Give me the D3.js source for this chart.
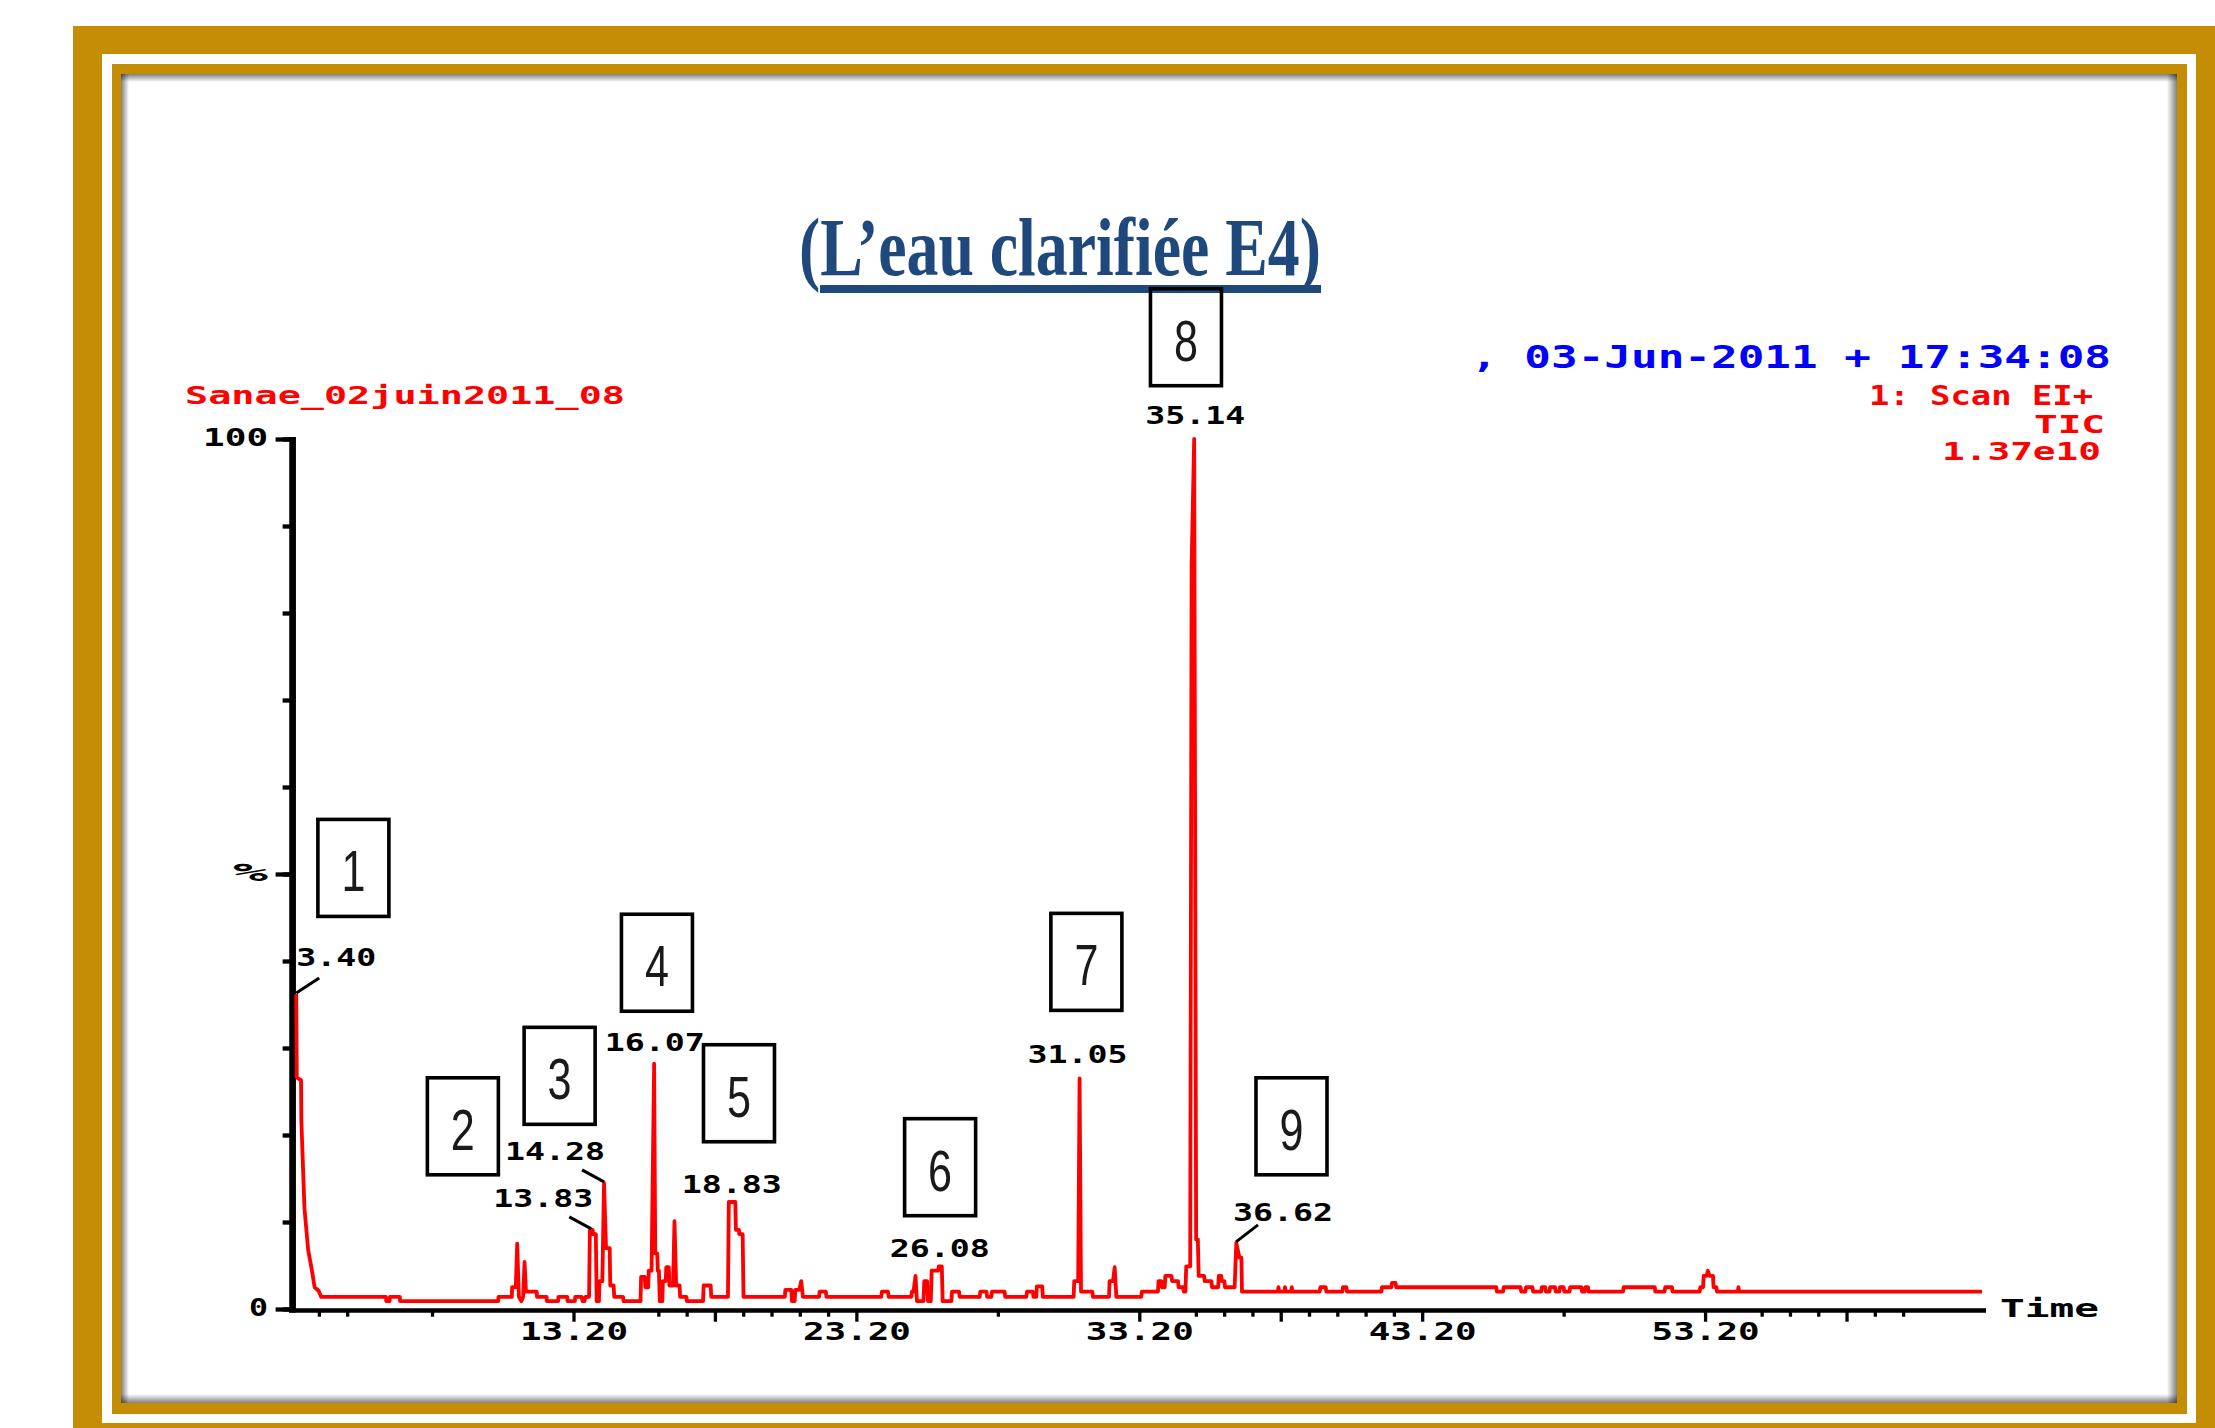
<!DOCTYPE html>
<html>
<head>
<meta charset="utf-8">
<script src="https://cdn.jsdelivr.net/npm/d3@7"></script>
<style>
  body { margin: 0; background: #fff; }
  svg { display: block; }
</style>
</head>
<body>
<div id="chart"></div>
<script>
// ---- data ----
const chartTitle = '(L\u2019eau clarifiée E4)';
const sampleName = 'Sanae_02juin2011_08';
const runStamp = ', 03-Jun-2011 + 17:34:08';
const scanInfo = ['1: Scan EI+', 'TIC', '1.37e10'];

// retention time (min), relative abundance (%)
const trace = [
  [3.40, 36.2], [3.42, 26.6], [3.57, 26.3], [3.58, 21.7], [3.69, 11.6], [3.82, 6.8], [3.94, 4.7],
  [4.05, 2.5], [4.19, 2.1], [4.28, 1.4], [6.57, 1.4], [6.58, 0.9], [6.70, 0.9], [6.71, 1.4],
  [7.06, 1.4], [7.07, 0.9], [10.54, 0.9], [10.55, 1.4], [11.02, 1.4], [11.03, 2.5], [11.16, 2.5],
  [11.21, 7.5], [11.27, 1.4], [11.36, 0.9], [11.42, 1.4], [11.47, 5.4], [11.52, 2.0], [11.90, 2.0],
  [11.91, 1.4], [12.25, 1.4], [12.26, 0.9], [12.66, 0.9], [12.67, 1.4], [12.98, 1.4], [12.99, 0.9],
  [13.25, 0.9], [13.26, 1.4], [13.49, 1.4], [13.52, 0.9], [13.59, 0.9], [13.62, 1.4], [13.75, 1.4],
  [13.78, 9.1], [13.88, 9.1], [13.89, 8.6], [13.99, 8.6], [14.02, 0.9], [14.10, 0.9], [14.12, 3.2],
  [14.22, 3.2], [14.28, 14.5], [14.35, 7.0], [14.48, 7.0], [14.50, 2.7], [14.62, 2.7], [14.64, 1.4],
  [14.95, 1.4], [14.97, 0.9], [15.57, 0.9], [15.59, 3.7], [15.72, 3.7], [15.74, 2.5], [15.84, 2.5],
  [15.86, 4.4], [15.96, 4.4], [16.05, 28.2], [16.09, 6.4], [16.16, 6.4], [16.18, 4.4], [16.22, 4.4],
  [16.25, 0.9], [16.34, 0.9], [16.36, 3.2], [16.46, 3.2], [16.48, 4.8], [16.57, 4.8], [16.59, 2.7],
  [16.72, 2.7], [16.77, 10.1], [16.83, 2.7], [16.95, 2.7], [16.97, 1.4], [17.19, 1.4], [17.21, 0.9],
  [17.78, 0.9], [17.80, 2.7], [18.05, 2.7], [18.07, 1.4], [18.66, 1.4], [18.69, 12.3], [18.92, 12.3],
  [18.94, 9.1], [19.05, 9.1], [19.06, 8.6], [19.18, 8.6], [19.21, 1.4], [20.67, 1.4], [20.69, 2.2],
  [20.90, 2.2], [20.92, 0.9], [21.02, 0.9], [21.04, 2.2], [21.18, 2.2], [21.25, 3.2], [21.31, 1.4],
  [21.88, 1.4], [21.90, 2.0], [22.12, 2.0], [22.14, 1.4], [24.08, 1.4], [24.10, 2.0], [24.32, 2.0],
  [24.34, 1.4], [25.14, 1.4], [25.16, 2.0], [25.22, 2.0], [25.29, 3.8], [25.34, 0.9], [25.57, 0.9],
  [25.60, 3.2], [25.70, 3.2], [25.73, 0.9], [25.83, 0.9], [25.86, 4.4], [26.09, 4.4], [26.11, 4.9],
  [26.22, 4.9], [26.25, 0.9], [26.56, 0.9], [26.58, 2.0], [26.83, 2.0], [26.85, 1.4], [27.56, 1.4],
  [27.58, 2.0], [27.80, 2.0], [27.82, 1.4], [27.97, 1.4], [27.99, 2.0], [28.44, 2.0], [28.46, 1.4],
  [29.21, 1.4], [29.23, 2.0], [29.44, 2.0], [29.46, 1.4], [29.56, 1.4], [29.58, 2.6], [29.77, 2.6],
  [29.79, 1.4], [30.88, 1.4], [30.90, 3.2], [31.04, 3.2], [31.09, 26.5], [31.14, 2.0], [31.54, 2.0],
  [31.56, 1.4], [32.13, 1.4], [32.15, 3.2], [32.27, 3.2], [32.33, 4.8], [32.39, 1.4], [33.27, 1.4],
  [33.29, 2.0], [33.86, 2.0], [33.88, 3.2], [33.98, 3.2], [34.00, 2.5], [34.10, 2.5], [34.12, 3.8],
  [34.34, 3.8], [34.36, 3.2], [34.57, 3.2], [34.59, 2.5], [34.75, 2.5], [34.77, 2.0], [34.83, 2.0],
  [34.86, 4.9], [35.00, 4.9], [35.05, 85.5], [35.14, 100], [35.21, 8.0], [35.27, 8.0], [35.30, 3.8],
  [35.49, 3.8], [35.51, 3.2], [35.75, 3.2], [35.77, 2.5], [35.99, 2.5], [36.01, 3.8], [36.10, 3.8],
  [36.12, 3.2], [36.21, 3.2], [36.23, 2.5], [36.57, 2.5], [36.63, 7.6], [36.74, 5.9], [36.81, 5.9],
  [36.83, 2.0], [38.10, 2.0], [38.12, 2.5], [38.15, 2.0], [38.33, 2.0], [38.35, 2.5], [38.38, 2.0],
  [38.57, 2.0], [38.59, 2.5], [38.62, 2.0], [39.58, 2.0], [39.60, 2.5], [39.79, 2.5], [39.81, 2.0],
  [40.38, 2.0], [40.40, 2.5], [40.52, 2.5], [40.54, 2.0], [41.76, 2.0], [41.78, 2.5], [42.11, 2.5],
  [42.13, 3.0], [42.26, 3.0], [42.28, 2.5], [45.82, 2.5], [45.84, 2.0], [46.06, 2.0], [46.08, 2.5],
  [46.68, 2.5], [46.70, 2.0], [46.85, 2.0], [46.87, 2.5], [47.10, 2.5], [47.12, 2.0], [47.41, 2.0],
  [47.43, 2.5], [47.55, 2.5], [47.57, 2.0], [47.70, 2.0], [47.72, 2.5], [47.90, 2.5], [47.92, 2.0],
  [48.05, 2.0], [48.07, 2.5], [48.20, 2.5], [48.22, 2.0], [48.41, 2.0], [48.43, 2.5], [48.83, 2.5],
  [48.85, 2.0], [48.95, 2.0], [48.97, 2.5], [49.06, 2.5], [49.08, 2.0], [50.30, 2.0], [50.32, 2.5],
  [51.42, 2.5], [51.44, 2.0], [51.77, 2.0], [51.79, 2.5], [52.03, 2.5], [52.05, 2.0], [53.01, 2.0],
  [53.03, 2.5], [53.13, 2.5], [53.15, 3.8], [53.25, 3.8], [53.30, 4.4], [53.36, 3.8], [53.48, 3.8],
  [53.50, 2.5], [53.60, 2.5], [53.62, 2.0], [54.36, 2.0], [54.38, 2.5], [54.40, 2.0], [62.99, 2.0]
];

// labelled peaks and their compound numbers
const peakTimes = [3.40, 13.83, 14.28, 16.07, 18.83, 26.08, 31.05, 35.14, 36.62];
const peakNumbers = ['1', '2', '3', '4', '5', '6', '7', '8', '9'];

// axis ticks
const xLabelTicks = [13.2, 23.2, 33.2, 43.2, 53.2];
const xMajorTicks = [13.2, 18.2, 23.2, 33.2, 38.2, 43.2, 53.2, 58.2];
const xMinorTicks = [4.2, 5.2, 8.2, 16.2, 17.2, 19.2, 20.2, 21.2, 22.2, 28.2, 35.2, 36.2, 37.2,
  39.2, 40.2, 41.2, 42.2, 48.2, 55.2, 56.2, 57.2, 59.2, 60.2];
const yTicks = [0, 10, 20, 30, 40, 50, 60, 70, 80, 90, 100];
const yLabelTicks = [0, 50, 100];
const yTickLabels = ['0', '%', '100'];

// ---- drawing ----
const W = 2215, H = 1428;
const GOLD = '#c58d03';
const MONO = "'DejaVu Sans Mono', 'Liberation Mono', monospace";

const svg = d3.select('#chart').append('svg').attr('width', W).attr('height', H);
const defs = svg.append('defs');

// gold double frame
svg.append('rect').attr('x', 73).attr('y', 26).attr('width', W - 73 + 40).attr('height', H - 26 + 40).attr('fill', GOLD);
svg.append('rect').attr('x', 102).attr('y', 54).attr('width', 2196 - 102).attr('height', 1423 - 54).attr('fill', '#fff');
svg.append('rect').attr('x', 112).attr('y', 64).attr('width', 2187 - 112).attr('height', 1414 - 64).attr('fill', GOLD);
svg.append('rect').attr('x', 121).attr('y', 74).attr('width', 2177 - 121).attr('height', 1403 - 74).attr('fill', '#fff');

function shade(id, x1, y1, x2, y2) {
  const g = defs.append('linearGradient').attr('id', id)
    .attr('x1', x1).attr('y1', y1).attr('x2', x2).attr('y2', y2);
  g.append('stop').attr('offset', 0).attr('stop-color', '#000').attr('stop-opacity', 0.5);
  g.append('stop').attr('offset', 1).attr('stop-color', '#000').attr('stop-opacity', 0);
}
shade('shT', 0, 0, 0, 1); shade('shB', 0, 1, 0, 0); shade('shL', 0, 0, 1, 0); shade('shR', 1, 0, 0, 0);
svg.append('rect').attr('x', 121).attr('y', 74).attr('width', 2056).attr('height', 8).attr('fill', 'url(#shT)');
svg.append('rect').attr('x', 121).attr('y', 1394).attr('width', 2056).attr('height', 9).attr('fill', 'url(#shB)');
svg.append('rect').attr('x', 121).attr('y', 74).attr('width', 8).attr('height', 1329).attr('fill', 'url(#shL)');
svg.append('rect').attr('x', 2167).attr('y', 74).attr('width', 10).attr('height', 1329).attr('fill', 'url(#shR)');

// title
svg.append('text')
  .attr('x', 799).attr('y', 275)
  .attr('font-family', "'Liberation Serif', 'Times New Roman', serif")
  .attr('font-weight', 'bold').attr('font-size', 83)
  .attr('fill', '#1f497d')
  .attr('textLength', 522).attr('lengthAdjust', 'spacingAndGlyphs')
  .text(chartTitle);
svg.append('rect').attr('x', 820).attr('y', 285).attr('width', 501).attr('height', 8).attr('fill', '#1f497d');

function pixText(str, x0, yb, width, size, color) {
  return svg.append('text')
    .attr('x', x0).attr('y', yb)
    .attr('font-family', MONO).attr('font-weight', 'bold')
    .attr('font-size', size).attr('fill', color)
    .attr('textLength', width).attr('lengthAdjust', 'spacingAndGlyphs')
    .text(str);
}

// header lines
pixText(sampleName, 185, 404, 440, 25, '#ff0000');
pixText(runStamp, 1471, 368, 640, 32, '#0000ff');
pixText(scanInfo[0], 1869, 405, 224, 26, '#ff0000');
pixText(scanInfo[1], 2034, 433, 71, 25, '#ff0000');
pixText(scanInfo[2], 1942, 460, 159, 25, '#ff0000');

// scales
const x = d3.scaleLinear().domain([3.25, 63.13]).range([292, 1986]);
const y = d3.scaleLinear().domain([0, 100]).range([1309, 439]);

// x axis: minor ticks, then major ticks with labels
const xMinor = svg.append('g').attr('transform', 'translate(0,1310.5)')
  .call(d3.axisBottom(x).tickValues(xMinorTicks).tickSize(6.2).tickSizeOuter(0).tickFormat(''));
xMinor.select('.domain').remove();
xMinor.selectAll('.tick line').attr('stroke', '#000').attr('stroke-width', 3.3);

const xMajor = svg.append('g').attr('transform', 'translate(0,1310.5)')
  .call(d3.axisBottom(x).tickValues(xMajorTicks).tickSize(11.2).tickSizeOuter(0)
    .tickFormat(d => xLabelTicks.includes(d) ? d3.format('.2f')(d) : ''));
xMajor.select('.domain').attr('stroke', '#000').attr('stroke-width', 4.4).attr('d', 'M289,0H1986');
xMajor.selectAll('.tick line').attr('stroke', '#000').attr('stroke-width', 3.3);
xMajor.selectAll('.tick text')
  .attr('font-family', MONO).attr('font-weight', 'bold').attr('font-size', 24).attr('fill', '#000')
  .attr('text-anchor', 'start').attr('x', -54).attr('y', 29.5).attr('dy', 0)
  .attr('textLength', 108).attr('lengthAdjust', 'spacingAndGlyphs');

// y axis
const yShort = svg.append('g').attr('transform', 'translate(292.6,0)')
  .call(d3.axisLeft(y).tickValues(yTicks).tickSize(10).tickSizeOuter(0).tickFormat(''));
yShort.select('.domain').remove();
yShort.selectAll('.tick line').attr('stroke', '#000').attr('stroke-width', 4.3);

const yLabelWidth = { '0': 19, '%': 35, '100': 65 };
const yLong = svg.append('g').attr('transform', 'translate(292.6,0)')
  .call(d3.axisLeft(y).tickValues(yLabelTicks).tickSize(17).tickSizeOuter(0)
    .tickFormat(d => yTickLabels[yLabelTicks.indexOf(d)]));
yLong.select('.domain').attr('stroke', '#000').attr('stroke-width', 6.7).attr('d', 'M0,437V1312.5');
yLong.selectAll('.tick line').attr('stroke', '#000').attr('stroke-width', 4.3);
yLong.selectAll('.tick text')
  .attr('font-family', MONO).attr('font-weight', 'bold').attr('font-size', 24).attr('fill', '#000')
  .attr('text-anchor', 'start').attr('dy', 6)
  .attr('x', d => -24.5 - yLabelWidth[yTickLabels[yLabelTicks.indexOf(d)]])
  .attr('textLength', d => yLabelWidth[yTickLabels[yLabelTicks.indexOf(d)]])
  .attr('lengthAdjust', 'spacingAndGlyphs');

pixText('Time', 2000, 1317, 99, 25, '#000');

// chromatogram trace
const line = d3.line().x(d => x(d[0])).y(d => y(d[1]));
svg.append('path').datum(trace)
  .attr('d', line)
  .attr('fill', 'none')
  .attr('stroke', '#ff0000')
  .attr('stroke-width', 3.8)
  .attr('stroke-linejoin', 'round');

// peak labels (placement offsets in px from each apex)
const labelPlace = [
  { align: 'start', dx: 0, dy: -28, lead: [23, -16] },
  { align: 'end', dx: 2, dy: -23, lead: [-22, -13] },
  { align: 'end', dx: 1, dy: -23, lead: [-22, -13] },
  { align: 'middle', dx: 0, dy: -13 },
  { align: 'middle', dx: -1, dy: -9 },
  { align: 'middle', dx: 2, dy: -9 },
  { align: 'middle', dx: -1, dy: -15 },
  { align: 'middle', dx: 1, dy: -15 },
  { align: 'start', dx: -3, dy: -22, lead: [22, -18] }
];

peakTimes.forEach((t, i) => {
  const top = d3.max(trace.filter(d => Math.abs(d[0] - t) <= 0.15), d => d[1]);
  const px = x(t), py = y(top);
  const txt = t.toFixed(2);
  const w = txt.length * 20;
  const p = labelPlace[i];
  let x0 = px + p.dx;
  if (p.align === 'middle') x0 = px + p.dx - w / 2;
  if (p.align === 'end') x0 = px + p.dx - w;
  pixText(txt, x0, py + p.dy, w, 25, '#000');
  if (p.lead) {
    svg.append('line')
      .attr('x1', px).attr('y1', py - 1)
      .attr('x2', px + p.lead[0]).attr('y2', py + p.lead[1])
      .attr('stroke', '#000').attr('stroke-width', 3);
  }
});

// numbered compound boxes (centre given in chart units)
const boxAt = [
  [5.42, 50.7], [9.29, 21.0], [12.71, 26.8], [16.15, 39.8], [19.05, 24.8],
  [26.16, 16.3], [31.33, 39.9], [34.85, 111.7], [38.58, 21.0]
];
const boxW = 71, boxH = 97;
peakNumbers.forEach((num, i) => {
  const cx = x(boxAt[i][0]), cy = y(boxAt[i][1]);
  svg.append('rect')
    .attr('x', cx - boxW / 2).attr('y', cy - boxH / 2)
    .attr('width', boxW).attr('height', boxH)
    .attr('fill', 'none').attr('stroke', '#000').attr('stroke-width', 3.6);
  svg.append('text')
    .attr('x', cx - 12).attr('y', cy + 23.5)
    .attr('font-family', "'Liberation Sans', Arial, sans-serif")
    .attr('font-size', 57).attr('fill', '#1a1a1a')
    .attr('textLength', 24).attr('lengthAdjust', 'spacingAndGlyphs')
    .text(num);
});
</script>
</body>
</html>
